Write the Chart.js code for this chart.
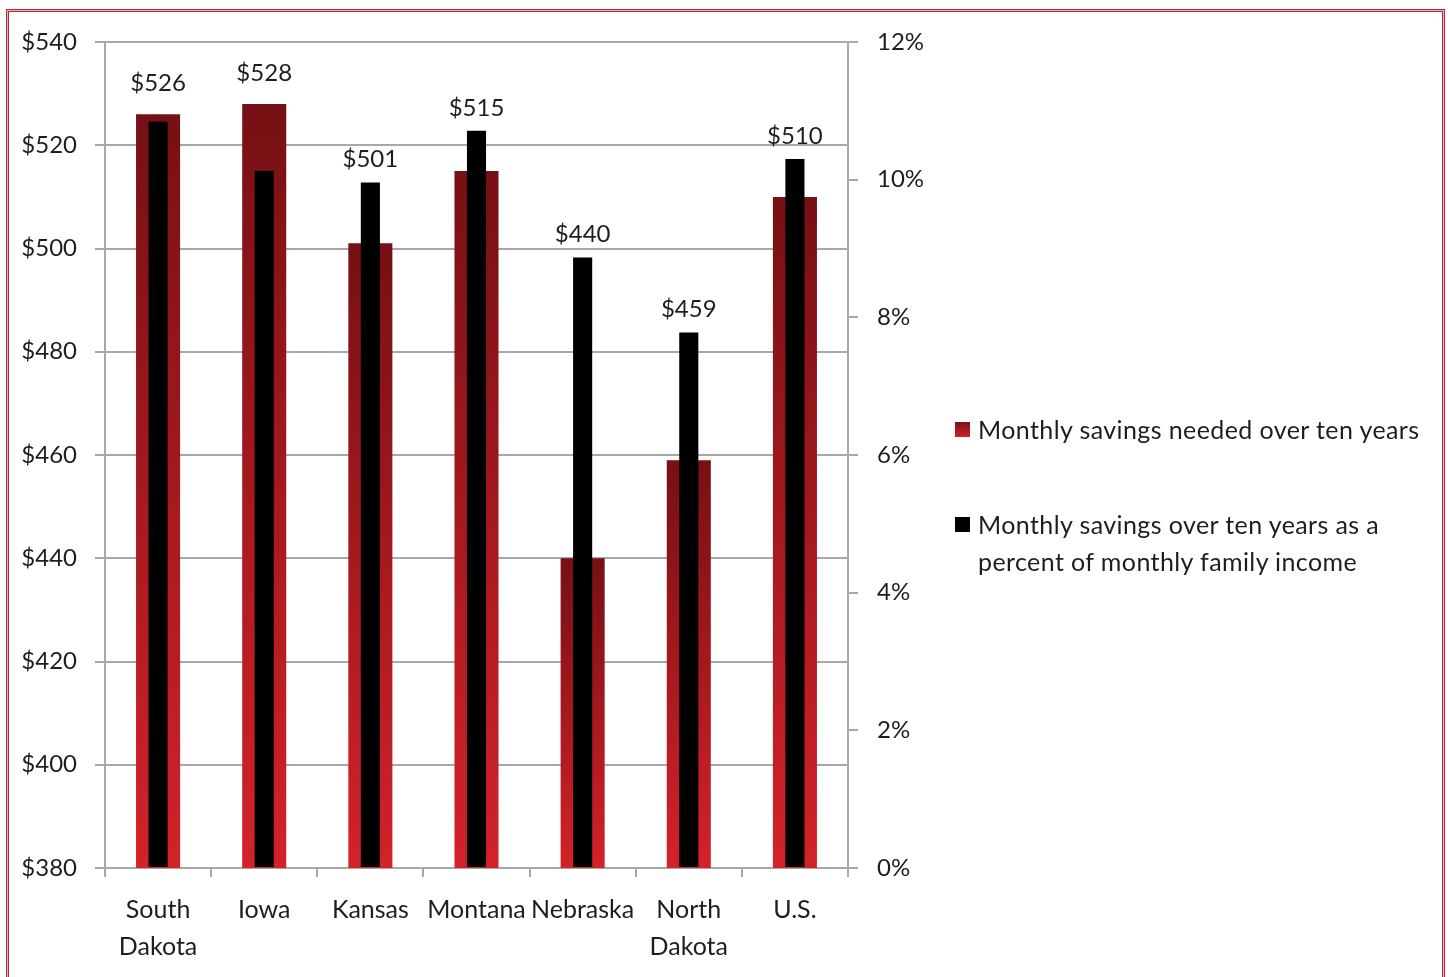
<!DOCTYPE html>
<html>
<head>
<meta charset="utf-8">
<script src="https://cdn.jsdelivr.net/npm/chart.js@4.4.1/dist/chart.umd.min.js"></script>
<style>
html,body{margin:0;padding:0;background:#fff;width:1448px;height:977px;overflow:hidden;}
#f1{position:absolute;left:6px;top:9px;width:1437px;height:1100px;border:1px solid #b3293a;background:#eeb3b9;}
#f2{position:absolute;left:8px;top:11px;width:1433px;height:1100px;border:1px solid #b3293a;background:#fff;}
#c{position:absolute;left:0;top:0;}
.sw{position:absolute;width:15px;height:15px;}
.lt{position:absolute;font-family:Lato,sans-serif;font-size:25px;letter-spacing:0.4px;line-height:37px;color:#1e1e1e;white-space:nowrap;}
</style>
</head>
<body>
<div id="f1"></div>
<div id="f2"></div>
<canvas id="c" width="1448" height="977"></canvas>
<div class="sw" style="left:955px;top:422px;background:linear-gradient(#7a1014,#d22228);"></div>
<div class="lt" style="left:978px;top:411px;">Monthly savings needed over ten years</div>
<div class="sw" style="left:955px;top:517px;background:#000;"></div>
<div class="lt" style="left:978px;top:506px;">Monthly savings over ten years as a<br>percent of monthly family income</div>
<script>
const categories = [["South","Dakota"],"Iowa","Kansas","Montana","Nebraska",["North","Dakota"],"U.S."];
const monthlySavings = [526,528,501,515,440,459,510];
const percentOfIncome = [10.84,10.13,9.96,10.71,8.87,7.78,10.30];
const seriesNames = ["Monthly savings needed over ten years","Monthly savings over ten years as a percent of monthly family income"];

const FONT = {family:'Lato, sans-serif', size:24};
const TXT = '#1e1e1e';
const GRID = '#a8a8a8';

const redGradient = (c) => {
  const chart = c.chart;
  const ys = chart.scales.y;
  if (!ys || c.type !== 'data' || !chart.chartArea) return '#a01a20';
  const top = ys.getPixelForValue(c.raw);
  const bot = ys.getPixelForValue(ys.min);
  if (!isFinite(top) || !isFinite(bot)) return '#a01a20';
  const g = chart.ctx.createLinearGradient(0, top, 0, bot);
  g.addColorStop(0, '#761014');
  g.addColorStop(1, '#d32229');
  return g;
};

const valueLabels = {
  id: 'valueLabels',
  afterDatasetsDraw(chart) {
    const ctx = chart.ctx;
    const m0 = chart.getDatasetMeta(0), m1 = chart.getDatasetMeta(1);
    ctx.save();
    ctx.font = '24px Lato, sans-serif';
    ctx.fillStyle = TXT;
    ctx.textAlign = 'center';
    ctx.textBaseline = 'middle';
    m0.data.forEach((bar, i) => {
      const redTop = bar.y, blackTop = m1.data[i].y;
      const top = Math.min(redTop, blackTop);
      const off = redTop <= blackTop ? 31 : 23;
      ctx.fillText('$' + monthlySavings[i], bar.x, top - off);
    });
    ctx.restore();
  }
};

new Chart(document.getElementById('c'), {
  type: 'bar',
  data: {
    labels: categories,
    datasets: [
      {label: seriesNames[0], data: monthlySavings, yAxisID: 'y', order: 2, grouped: false,
       backgroundColor: redGradient, barPercentage: 0.415, categoryPercentage: 1, borderWidth: 0},
      {label: seriesNames[1], data: percentOfIncome, yAxisID: 'y1', order: 1, grouped: false,
       backgroundColor: '#000000', barPercentage: 0.18, categoryPercentage: 1, borderWidth: 0}
    ]
  },
  options: {
    responsive: false,
    animation: false,
    devicePixelRatio: 1,
    layout: {padding: {left: 0, top: 42, right: 500, bottom: 9}},
    plugins: {legend: {display: false}, tooltip: {enabled: false}},
    scales: {
      x: {
        offset: true,
        grid: {offset: true, drawOnChartArea: false, color: GRID, lineWidth: 2, tickLength: 9, tickWidth: 2},
        border: {color: GRID, width: 2},
        ticks: {font: {family:'Lato, sans-serif', size: 25, lineHeight: 1.48}, color: TXT, padding: 14, maxRotation: 0, autoSkip: false},
        afterFit(s) { s.height = 100; }
      },
      y: {
        position: 'left', min: 380, max: 540,
        ticks: {stepSize: 20, callback: v => '$' + v, padding: 18, font: FONT, color: TXT},
        grid: {color: GRID, lineWidth: 2, tickLength: 10},
        border: {color: GRID, width: 2},
        afterFit(s) { s.width = 105; }
      },
      y1: {
        position: 'right', min: 0, max: 12,
        ticks: {stepSize: 2, callback: v => v + '%', padding: 19, font: FONT, color: TXT},
        grid: {drawOnChartArea: false, color: GRID, lineWidth: 2, tickLength: 10},
        border: {color: GRID, width: 2},
        afterFit(s) { s.width = 100; }
      }
    }
  },
  plugins: [valueLabels]
});
</script>
</body>
</html>
